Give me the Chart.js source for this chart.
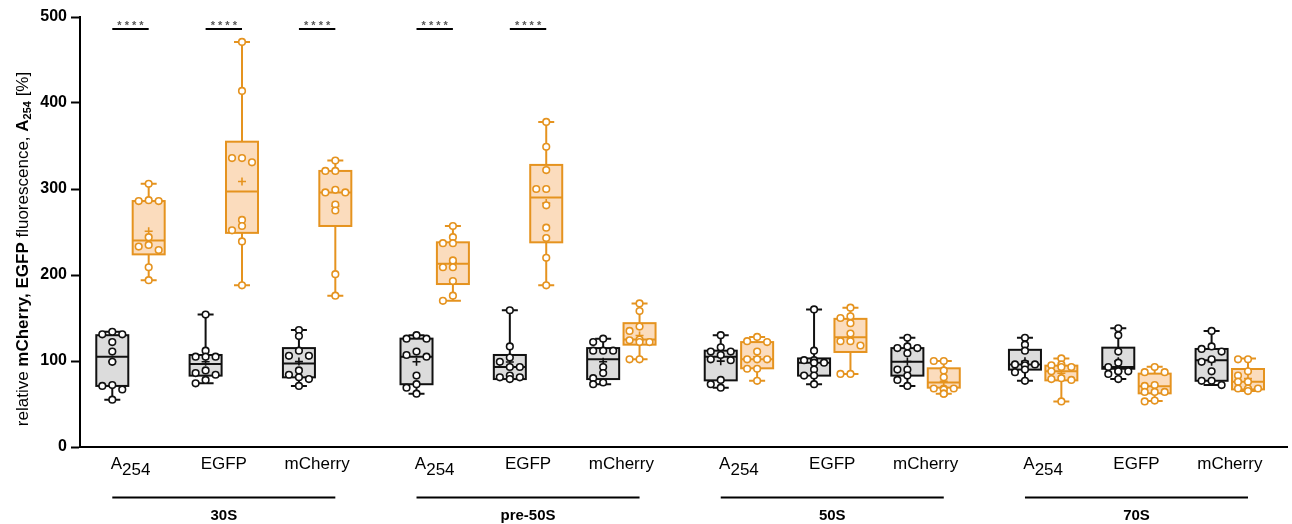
<!DOCTYPE html>
<html>
<head>
<meta charset="utf-8">
<script src="https://cdn.jsdelivr.net/npm/chart.js@4.4.1/dist/chart.umd.min.js"></script>
<style>
  html, body { margin: 0; padding: 0; background: #fff; }
  #wrap { width: 1292px; height: 524px; }
</style>
</head>
<body>
<div id="wrap"><canvas id="chart"></canvas></div>
<script>
const groups = ['30S', 'pre-50S', '50S', '70S'];
const targets = ['A254', 'EGFP', 'mCherry'];
const yTicks = [0, 100, 200, 300, 400, 500];

// one entry per group x target, order: 30S A254, 30S EGFP, 30S mCherry, pre-50S A254, ...
const greyPoints = [
  [134, 131, 131, 122, 111, 99, 72, 71, 67, 55],
  [154, 112, 105, 105, 105, 89, 86, 84, 78, 74],
  [136, 129, 112, 106, 106, 89, 84, 81, 79, 71],
  [130, 126, 126, 111, 107, 105, 83, 73, 69, 62],
  [159, 117, 104, 99, 93, 93, 83, 81, 81, 79],
  [126, 122, 112, 112, 112, 93, 86, 80, 75, 73],
  [130, 116, 111, 111, 107, 102, 101, 78, 73, 69],
  [160, 112, 101, 101, 98, 98, 90, 83, 83, 73],
  [127, 117, 115, 115, 109, 90, 90, 83, 78, 71],
  [127, 119, 112, 97, 96, 96, 95, 90, 87, 77],
  [138, 130, 111, 98, 93, 88, 88, 88, 85, 79],
  [135, 117, 114, 111, 102, 99, 88, 77, 77, 72],
];
const orangePoints = [
  [306, 287, 286, 286, 244, 235, 233, 229, 209, 194],
  [471, 414, 336, 336, 331, 264, 257, 252, 239, 188],
  [333, 321, 321, 299, 296, 296, 282, 275, 201, 176],
  [257, 244, 237, 237, 217, 209, 209, 193, 176, 170],
  [378, 349, 322, 300, 300, 281, 255, 243, 220, 188],
  [167, 158, 140, 135, 125, 124, 122, 122, 102, 102],
  [128, 123, 122, 111, 102, 102, 102, 91, 91, 77],
  [162, 152, 150, 144, 132, 123, 123, 118, 85, 85],
  [100, 100, 89, 81, 68, 68, 68, 67, 62, 62],
  [103, 96, 95, 93, 93, 88, 80, 79, 78, 53],
  [93, 87, 87, 72, 71, 64, 64, 64, 54, 53],
  [102, 102, 88, 83, 76, 76, 68, 68, 68, 65],
];

// [min, q1, median, q3, max]
const greyBox = [
  [55, 71, 105, 130, 134],
  [74, 83, 96.5, 107, 154],
  [71, 81, 97, 115, 136],
  [62, 73, 105, 126, 130],
  [79, 79, 93, 107, 159],
  [73, 79, 102, 115, 126],
  [69, 77.5, 105, 112, 130],
  [73, 83, 98, 103, 160],
  [71, 83, 99, 115, 127],
  [77, 90, 96, 113, 127],
  [79, 91, 93, 115.5, 138],
  [72, 77, 101, 114, 135],
];
const orangeBox = [
  [194, 224, 240, 286, 306],
  [188, 249, 297, 355, 471],
  [176, 257, 296, 321, 333],
  [170, 189.5, 213, 238, 257],
  [188, 238, 290, 328, 378],
  [102, 119, 125, 144, 167],
  [77, 91.5, 102, 122, 128],
  [85, 110.5, 127.5, 149, 162],
  [62, 69, 75, 91.5, 100],
  [53, 77.5, 88, 94.6, 103],
  [53.5, 62.4, 70.6, 85.3, 93.4],
  [65, 67, 76, 90.7, 103],
];

// cells with a significance bar, and its label
const sigCells = [0, 1, 2, 3, 4];
const sigLabel = '****';
const sigLevel = 486;

const GREY = '#111111';
const GREY_FILL = '#dcdcdc';
const ORANGE = '#e5931f';
const ORANGE_FILL = '#fbdcbd';
const FONT = "'Liberation Sans', Arial, sans-serif";

const GROUP_STEP = 3.26;
const SIDE = 0.195;
const SLOT = 0.107;

function cellPos(i) {
  const g = Math.floor(i / 3);
  const k = i % 3;
  return g * GROUP_STEP + k;
}

function mean(arr) {
  let s = 0;
  for (const v of arr) s += v;
  return s / arr.length;
}

// simple beeswarm: shift points sideways when they would overlap
function swarm(values, center) {
  const placed = [];
  const out = [];
  const slots = [0, -1, 1, -1.5, 1.5];
  for (const v of values) {
    let slot = 0;
    for (const s of slots) {
      const hit = placed.some((p) => Math.abs(p.slot - s) < 0.9 && Math.abs(p.v - v) < 6.5);
      if (!hit) {
        slot = s;
        break;
      }
    }
    placed.push({ v, slot });
    out.push({ x: center + slot * SLOT, y: v });
  }
  return out;
}

const greyData = [];
const orangeData = [];
for (let i = 0; i < greyPoints.length; i++) {
  greyData.push(...swarm(greyPoints[i], cellPos(i) - SIDE));
  orangeData.push(...swarm(orangePoints[i], cellPos(i) + SIDE));
}

function drawBox(ctx, cx, ys, stats, stroke, fill, avg) {
  const [mn, q1, md, q3, mx] = stats.map((v) => ys.getPixelForValue(v));
  const hw = 16;
  ctx.save();
  ctx.strokeStyle = stroke;
  ctx.lineWidth = 2;
  ctx.beginPath();
  ctx.moveTo(cx, q3);
  ctx.lineTo(cx, mx);
  ctx.moveTo(cx - 8, mx);
  ctx.lineTo(cx + 8, mx);
  ctx.moveTo(cx, q1);
  ctx.lineTo(cx, mn);
  ctx.moveTo(cx - 8, mn);
  ctx.lineTo(cx + 8, mn);
  ctx.stroke();
  ctx.fillStyle = fill;
  ctx.fillRect(cx - hw, q3, hw * 2, q1 - q3);
  ctx.strokeRect(cx - hw, q3, hw * 2, q1 - q3);
  ctx.beginPath();
  ctx.moveTo(cx - hw, md);
  ctx.lineTo(cx + hw, md);
  ctx.stroke();
  const ma = ys.getPixelForValue(avg);
  ctx.lineWidth = 1.6;
  ctx.beginPath();
  ctx.moveTo(cx - 4, ma);
  ctx.lineTo(cx + 4, ma);
  ctx.moveTo(cx, ma - 4);
  ctx.lineTo(cx, ma + 4);
  ctx.stroke();
  ctx.restore();
}

const boxPlugin = {
  id: 'boxes',
  beforeDatasetsDraw(chart) {
    const ctx = chart.ctx;
    const xScale = chart.scales.x;
    const yScale = chart.scales.y;
    for (let i = 0; i < greyBox.length; i++) {
      const gx = xScale.getPixelForValue(cellPos(i) - SIDE);
      const ox = xScale.getPixelForValue(cellPos(i) + SIDE);
      drawBox(ctx, gx, yScale, greyBox[i], GREY, GREY_FILL, mean(greyPoints[i]));
      drawBox(ctx, ox, yScale, orangeBox[i], ORANGE, ORANGE_FILL, mean(orangePoints[i]));
    }
  },
};

function drawSubLabel(ctx, text, cx, y) {
  ctx.textBaseline = 'alphabetic';
  ctx.font = '17px ' + FONT;
  if (text == 'A254') {
    const w1 = ctx.measureText('A').width;
    const w2 = ctx.measureText('254').width;
    const start = cx - (w1 + w2) / 2;
    ctx.textAlign = 'left';
    ctx.fillText('A', start, y);
    ctx.fillText('254', start + w1, y + 6);
  } else {
    ctx.textAlign = 'center';
    ctx.fillText(text, cx, y);
  }
}

const labelPlugin = {
  id: 'labels',
  afterDraw(chart) {
    const ctx = chart.ctx;
    const xScale = chart.scales.x;
    const yScale = chart.scales.y;
    ctx.save();
    ctx.fillStyle = '#000';

    // category labels under the axis
    for (let i = 0; i < groups.length * targets.length; i++) {
      const cx = xScale.getPixelForValue(cellPos(i));
      drawSubLabel(ctx, targets[i % 3], cx, 469);
    }

    // group lines and names
    ctx.strokeStyle = '#000';
    ctx.lineWidth = 2;
    for (let g = 0; g < groups.length; g++) {
      const x1 = xScale.getPixelForValue(cellPos(g * 3) - SIDE);
      const x2 = xScale.getPixelForValue(cellPos(g * 3 + 2) + SIDE);
      ctx.beginPath();
      ctx.moveTo(x1, 497.5);
      ctx.lineTo(x2, 497.5);
      ctx.stroke();
      ctx.font = 'bold 15px ' + FONT;
      ctx.textAlign = 'center';
      ctx.textBaseline = 'middle';
      ctx.fillText(groups[g], (x1 + x2) / 2, 516);
    }

    // significance bars
    for (const i of sigCells) {
      const x1 = xScale.getPixelForValue(cellPos(i) - SIDE);
      const x2 = xScale.getPixelForValue(cellPos(i) + SIDE);
      const yy = yScale.getPixelForValue(sigLevel);
      ctx.strokeStyle = '#000';
      ctx.lineWidth = 2;
      ctx.beginPath();
      ctx.moveTo(x1, yy);
      ctx.lineTo(x2, yy);
      ctx.stroke();
      ctx.fillStyle = '#555';
      ctx.font = 'bold 11px ' + FONT;
      ctx.textAlign = 'center';
      ctx.textBaseline = 'alphabetic';
      ctx.fillText(sigLabel.split('').join(' '), (x1 + x2) / 2, yy - 0.5);
    }

    // y axis title with mixed weights and a subscript
    const parts = [
      ['relative ', '', 0],
      ['mCherry, EGFP', 'bold ', 0],
      [' fluorescence, ', '', 0],
      ['A', 'bold ', 0],
      ['254', 'bold ', 1],
      [' [%]', '', 0],
    ];
    let total = 0;
    for (const p of parts) {
      ctx.font = p[1] + (p[2] ? '11px ' : '17px ') + FONT;
      total += ctx.measureText(p[0]).width;
    }
    ctx.translate(28, 249 + total / 2);
    ctx.rotate(-Math.PI / 2);
    ctx.fillStyle = '#000';
    ctx.textAlign = 'left';
    ctx.textBaseline = 'alphabetic';
    let pos = 0;
    for (const p of parts) {
      ctx.font = p[1] + (p[2] ? '11px ' : '17px ') + FONT;
      ctx.fillText(p[0], pos, p[2] ? 3 : 0);
      pos += ctx.measureText(p[0]).width;
    }
    ctx.restore();
  },
};

const pointStyle = {
  pointRadius: 3.3,
  pointHoverRadius: 3.3,
  pointBorderWidth: 1.6,
  pointBackgroundColor: '#fff',
};

new Chart(document.getElementById('chart'), {
  type: 'scatter',
  data: {
    datasets: [
      Object.assign({ data: greyData, pointBorderColor: GREY }, pointStyle),
      Object.assign({ data: orangeData, pointBorderColor: ORANGE }, pointStyle),
    ],
  },
  options: {
    responsive: true,
    maintainAspectRatio: false,
    animation: false,
    layout: {
      padding: { top: 17, right: 0, left: 0, bottom: 0 },
    },
    plugins: {
      legend: { display: false },
      tooltip: { enabled: false },
    },
    scales: {
      x: {
        type: 'linear',
        min: -0.541,
        max: 12.394,
        ticks: { display: false },
        grid: { display: false },
        border: { color: '#000', width: 2 },
        afterFit(axis) {
          axis.height = 77;
        },
      },
      y: {
        min: 0,
        max: 500,
        afterBuildTicks(axis) {
          axis.ticks = yTicks.map((v) => ({ value: v }));
        },
        ticks: {
          color: '#000',
          padding: 4,
          font: { family: FONT, size: 16, weight: 'bold' },
        },
        grid: {
          display: true,
          drawOnChartArea: false,
          drawTicks: true,
          tickLength: 9,
          tickWidth: 2,
          tickColor: '#000',
        },
        border: { color: '#000', width: 2 },
        afterFit(axis) {
          axis.width = 80;
        },
      },
    },
  },
  plugins: [boxPlugin, labelPlugin],
});
</script>
</body>
</html>
